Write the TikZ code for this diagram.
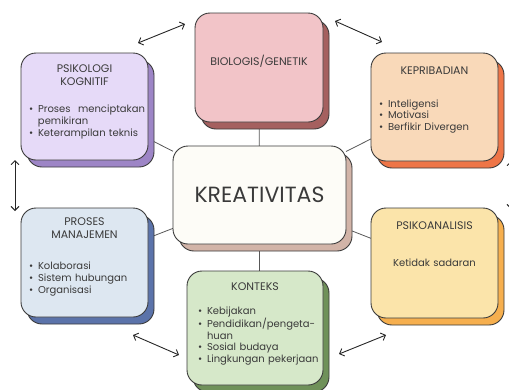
\documentclass[tikz,border=0pt]{standalone}
\usepackage{fontspec}
\setmainfont{Poppins}
\usetikzlibrary{arrows.meta,positioning,shadows,backgrounds}

\definecolor{ink}{HTML}{3A3A3A}
\definecolor{bioC}{HTML}{F2C4C8}
\definecolor{bioS}{HTML}{A5605F}
\definecolor{kogC}{HTML}{E6DAF8}
\definecolor{kogS}{HTML}{9D85C6}
\definecolor{kepC}{HTML}{F9D9B9}
\definecolor{kepS}{HTML}{EE7547}
\definecolor{kreC}{HTML}{FDFCF7}
\definecolor{kreS}{HTML}{D2B4A8}
\definecolor{manC}{HTML}{DDE7F1}
\definecolor{manS}{HTML}{5B73AA}
\definecolor{konC}{HTML}{D6E8C9}
\definecolor{konS}{HTML}{6F9159}
\definecolor{psiC}{HTML}{FBE4AA}
\definecolor{psiS}{HTML}{F6AF4E}

\hyphenpenalty=10000
% bullet line with hanging indent
\newcommand{\itm}[1]{\par\noindent\hangindent=9pt\hangafter=1\makebox[9pt][l]{\textbullet}#1}

\tikzset{
  card/.style 2 args={draw=ink, line width=0.9pt, rounded corners=15pt, fill=#1,
    inner sep=0pt, outer sep=0pt,
    copy shadow={shadow xshift=6pt, shadow yshift=-7pt, fill=#2, draw=ink}},
  head/.style={font=\fontsize{11}{12.5}\selectfont, text=ink, align=center, inner sep=0pt},
  blist/.style={font=\fontsize{10}{11.8}\selectfont, text=ink, align=left,
    text width=#1, inner sep=0pt},
  link/.style={draw=ink!85, line width=0.8pt},
  biarrow/.style={{Straight Barb[length=4pt,width=8pt]}-{Straight Barb[length=4pt,width=8pt]},
    line width=0.9pt, black!85}
}

\begin{document}
\begin{tikzpicture}[x=1pt,y=-1pt]
  \useasboundingbox (0,0) rectangle (509,389);

  % Centre
  \node[card={kreC}{kreS}, minimum width=173pt, minimum height=98pt,
    font=\fontsize{22}{24}\selectfont, text=ink] (kre) at (259.5,195) {KREATIVITAS};

  % Boxes round the centre
  \node[card={bioC}{bioS}, minimum width=128pt, minimum height=109pt] (bio) at (259,67.5) {};
  \node[card={kogC}{kogS}, minimum width=127pt, minimum height=107pt] (kog) at (84.5,106.5) {};
  \node[card={kepC}{kepS}, minimum width=127pt, minimum height=108pt] (kep) at (434.5,107) {};
  \node[card={manC}{manS}, minimum width=127pt, minimum height=109pt] (man) at (84.5,262.5) {};
  \node[card={psiC}{psiS}, minimum width=127pt, minimum height=110pt] (psi) at (434.5,263) {};
  \node[card={konC}{konS}, minimum width=136pt, minimum height=114pt] (kon) at (255,328) {};

  % Links to the centre
  \begin{scope}[on background layer]
    \draw[link] (kre) -- (bio);
    \draw[link] (kre) -- (kre |- kon);
    \draw[link] (kre) -- (kog);
    \draw[link] (kre) -- (kep);
    \draw[link] (kre) -- (man);
    \draw[link] (kre) -- (psi);
  \end{scope}

  % Texts
  \node[head] (bioT) at ([yshift=6pt]bio.center) {BIOLOGIS/GENETIK};

  \node[head, below=12pt of kog.north] (kogT) {PSIKOLOGI\\KOGNITIF};
  \node[blist=116pt, below=15pt of kogT, xshift=2.5pt] (kogL)
    {\itm{Proses\hfill menciptakan\newline pemikiran}\itm{Keterampilan teknis}};

  \node[head, below=14pt of kep.north] (kepT) {KEPRIBADIAN};
  \node[blist=111pt, below=20pt of kepT] (kepL)
    {\itm{Inteligensi}\itm{Motivasi}\itm{Berfikir Divergen}};

  \node[head, below=10pt of man.north] (manT) {PROSES\\MANAJEMEN};
  \node[blist=111pt, below=19pt of manT] (manL)
    {\itm{Kolaborasi}\itm{Sistem hubungan}\itm{Organisasi}};

  \node[head, below=14pt of psi.north] (psiT) {PSIKOANALISIS};
  \node[blist=111pt, align=center, below=28pt of psiT] (psiL) {Ketidak sadaran};

  \node[head, below=12pt of kon.north] (konT) {KONTEKS};
  \node[blist=125pt, below=11pt of konT, xshift=5.5pt] (konL)
    {\itm{Kebijakan}\itm{Pendidikan/pengeta-\newline huan}\itm{Sosial budaya}\itm{Lingkungan pekerjaan}};

  % Arrows between the outer boxes
  \coordinate (a1) at (138,43);  \coordinate (b1) at (185,24);
  \coordinate (a2) at (335,21);  \coordinate (b2) at (382,42);
  \coordinate (a3) at (15,160);  \coordinate (b3) at (15,211);
  \coordinate (a4) at (133,335); \coordinate (b4) at (179,355);
  \coordinate (a5) at (339,354); \coordinate (b5) at (386,335);
  \coordinate (a6) at (511,161); \coordinate (b6) at (511,209);
  \foreach \i in {1,...,6}
    \draw[biarrow] (a\i) -- (b\i);
\end{tikzpicture}
\end{document}
